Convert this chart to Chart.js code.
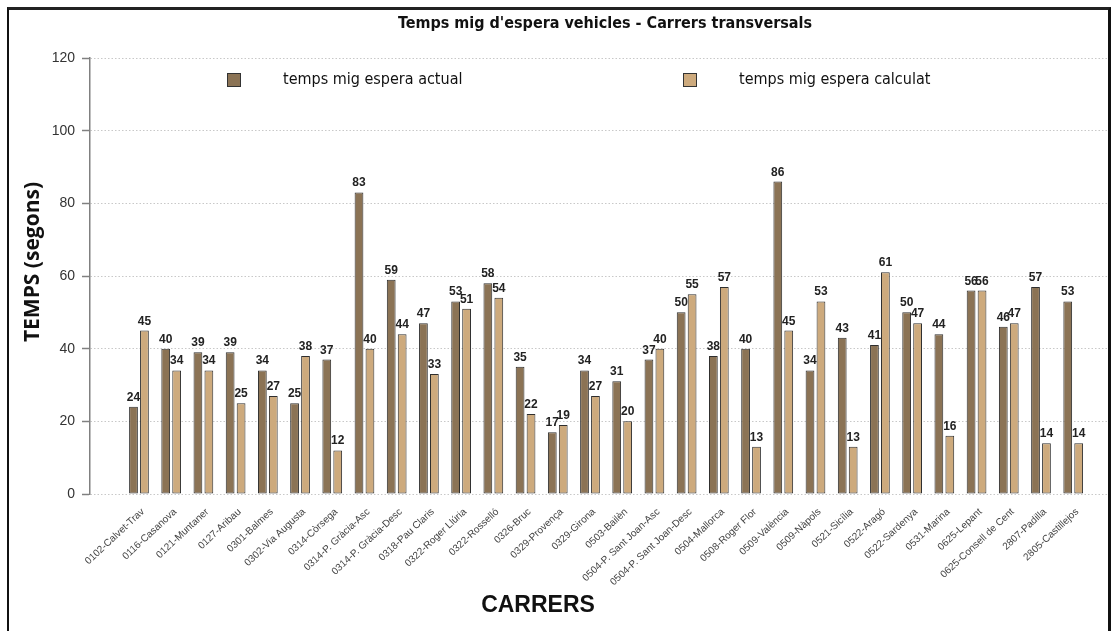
<!DOCTYPE html>
<html>
<head>
<meta charset="utf-8">
<script src="https://cdn.jsdelivr.net/npm/chart.js@4.4.1/dist/chart.umd.min.js"></script>
<style>
  html, body { margin: 0; padding: 0; background: #fff; }
  #wrap { position: relative; width: 1115px; height: 631px; overflow: hidden; background: #fff; }
  #c { position: absolute; left: 0; top: 0; }
  #frame {
    position: absolute; left: 7px; top: 7px; width: 1099px; height: 700px;
    border-left: 2px solid #111; border-top: 3px solid #222; border-right: 3px solid #111;
    pointer-events: none;
  }
</style>
</head>
<body>
<div id="wrap">
  <canvas id="c" width="1115" height="631"></canvas>
  <div id="frame"></div>
</div>
<script>
// Street crossings (carrers transversals)
const categories = [
  '0102-Calvet-Trav', '0116-Casanova', '0121-Muntaner', '0127-Aribau', '0301-Balmes',
  '0302-Via Augusta', '0314-Còrsega', '0314-P. Gràcia-Asc', '0314-P. Gràcia-Desc', '0318-Pau Claris',
  '0322-Roger Llúria', '0322-Rosselló', '0326-Bruc', '0329-Provença', '0329-Girona',
  '0503-Bailèn', '0504-P. Sant Joan-Asc', '0504-P. Sant Joan-Desc', '0504-Mallorca', '0508-Roger Flor',
  '0509-València', '0509-Nàpols', '0521-Sicília', '0522-Aragó', '0522-Sardenya',
  '0531-Marina', '0625-Lepant', '0625-Consell de Cent', '2807-Padilla', '2805-Castillejos'
];
// Mean waiting time (seconds)
const actualWait = [24, 40, 39, 39, 34, 25, 37, 83, 59, 47, 53, 58, 35, 17, 34, 31, 37, 50, 38, 40, 86, 34, 43, 41, 50, 44, 56, 46, 57, 53];
const calcWait   = [45, 34, 34, 25, 27, 38, 12, 40, 44, 33, 51, 54, 22, 19, 27, 20, 40, 55, 57, 13, 45, 53, 13, 61, 47, 16, 56, 47, 14, 14];
const yTicks = [0, 20, 40, 60, 80, 100, 120];
const seriesNames = ['temps mig espera actual', 'temps mig espera calculat'];

const COND = '"DejaVu Sans Condensed", "Liberation Sans Narrow", sans-serif';
const SANS = '"Liberation Sans", Arial, sans-serif';

// Title, legend, axis titles and value labels
const decorations = {
  id: 'decorations',
  afterDatasetsDraw(chart) {
    const ctx = chart.ctx;
    ctx.save();
    ctx.font = 'bold 12px ' + SANS;
    ctx.fillStyle = '#222';
    ctx.textAlign = 'center';
    ctx.textBaseline = 'alphabetic';
    chart.data.datasets.forEach((ds, di) => {
      chart.getDatasetMeta(di).data.forEach((bar, i) => {
        ctx.fillText(String(ds.data[i].y), bar.x, bar.y - 6);
      });
    });
    ctx.restore();
  },
  afterDraw(chart) {
    const ctx = chart.ctx;
    ctx.save();
    // chart title
    ctx.fillStyle = '#111';
    ctx.font = 'bold 16px ' + COND;
    ctx.textAlign = 'center';
    ctx.textBaseline = 'middle';
    ctx.fillText("Temps mig d'espera vehicles - Carrers transversals", 605, 24);

    // legend
    const legendX = [227, 683];
    ctx.font = '16px ' + COND;
    ctx.textAlign = 'left';
    chart.data.datasets.forEach((ds, i) => {
      ctx.fillStyle = ds.backgroundColor;
      ctx.fillRect(legendX[i], 73, 13, 13);
      ctx.strokeStyle = '#333';
      ctx.lineWidth = 1;
      ctx.strokeRect(legendX[i] + 0.5, 73.5, 13, 13);
      ctx.fillStyle = '#111';
      ctx.fillText(ds.label, legendX[i] + 56, 80);
    });

    // axis titles
    ctx.fillStyle = '#111';
    ctx.font = 'bold 23px ' + SANS;
    ctx.textAlign = 'center';
    ctx.fillText('CARRERS', 538, 606);

    ctx.translate(33, 262);
    ctx.rotate(-Math.PI / 2);
    ctx.font = 'bold 21px "Open Sans", ' + SANS;
    ctx.fillText('TEMPS (segons)', 0, 0);
    ctx.restore();
  }
};

new Chart(document.getElementById('c'), {
  type: 'bar',
  data: {
    datasets: [
      {
        label: seriesNames[0],
        data: actualWait.map((v, i) => ({ x: i, y: v })),
        backgroundColor: '#8B7355',
        borderColor: '#2e2e2e',
        borderWidth: 1,
        borderSkipped: false
      },
      {
        label: seriesNames[1],
        data: calcWait.map((v, i) => ({ x: i, y: v })),
        backgroundColor: '#CDAA7D',
        borderColor: '#2e2e2e',
        borderWidth: 1,
        borderSkipped: false
      }
    ]
  },
  options: {
    responsive: false,
    animation: false,
    devicePixelRatio: 1,
    layout: { padding: { top: 58, left: 0, right: 7, bottom: 0 } },
    categoryPercentage: 0.68,
    barPercentage: 0.8,
    plugins: {
      legend: { display: false },
      title: { display: false },
      tooltip: { enabled: false }
    },
    scales: {
      x: {
        type: 'linear',
        min: -1.52,
        max: 30.08,
        offset: false,
        grid: { display: false },
        border: { display: false },
        afterBuildTicks: s => { s.ticks = categories.map((_, i) => ({ value: i })); },
        afterFit: s => { s.height = 137; },
        ticks: {
          autoSkip: false,
          minRotation: 43,
          maxRotation: 43,
          padding: 4,
          labelOffset: 4,
          color: '#444',
          font: { family: SANS, size: 10 },
          callback: v => categories[v] ?? ''
        }
      },
      y: {
        min: 0,
        max: 120,
        afterBuildTicks: s => { s.ticks = yTicks.map(v => ({ value: v })); },
        afterFit: s => { s.width = 90; },
        grid: {
          color: '#c8c8c8',
          lineWidth: 1,
          drawTicks: true,
          tickLength: 8,
          tickColor: '#808080',
          tickWidth: 1.5
        },
        border: { display: true, color: '#808080', width: 1.5, dash: [1.5, 2] },
        ticks: {
          padding: 7,
          color: '#333',
          font: { family: SANS, size: 14 }
        }
      }
    }
  },
  plugins: [decorations]
});
</script>
</body>
</html>
